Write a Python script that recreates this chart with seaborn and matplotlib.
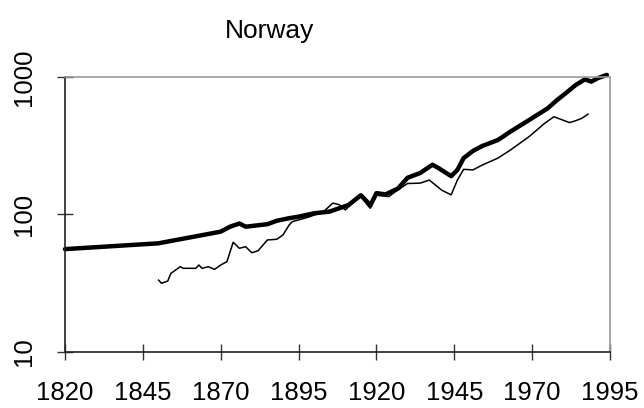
import numpy as np
import pandas as pd
import matplotlib.pyplot as plt
from matplotlib.ticker import NullLocator
import seaborn as sns

# thick line (GDP per capita index)
gdp_years = [1820, 1850, 1870, 1873, 1876, 1878, 1885, 1888, 1892, 1895,
             1900, 1905, 1908, 1911, 1915, 1917, 1918, 1920, 1923, 1927,
             1930, 1934, 1938, 1940, 1944, 1946, 1948, 1951, 1954, 1959,
             1963, 1969, 1975, 1978, 1981, 1984, 1987, 1989, 1991, 1994]
gdp = [56, 61.7, 75, 81.5, 86, 81.5, 85, 90, 94, 96.4,
       102, 105, 111, 117, 138, 124, 116, 143, 140, 155,
       185, 200, 230, 217, 190, 211, 257, 290, 315, 348,
       400, 486, 592, 680, 769, 875, 962, 925, 979, 1035]

# thin line
wage_years = [1850, 1851, 1853, 1854, 1857, 1858, 1862, 1863, 1864, 1866,
              1868, 1870, 1872, 1874, 1876, 1878, 1880, 1882, 1885, 1888,
              1890, 1892, 1893, 1898, 1903, 1906, 1908, 1910, 1913, 1915,
              1918, 1920, 1924, 1926, 1930, 1934, 1937, 1941, 1944, 1946,
              1948, 1951, 1954, 1959, 1963, 1969, 1974, 1977, 1982, 1984,
              1986, 1988]
wage = [33.4, 31.6, 32.8, 37.3, 41.7, 40.6, 40.6, 42.9, 40.6, 41.7,
        39.9, 42.9, 45.4, 62.8, 56.8, 58.3, 52.7, 54.5, 65.3, 66,
        71, 84, 88.7, 95.4, 104.8, 121, 118, 108, 125, 135,
        111, 138, 135, 146, 168, 169, 178, 150, 139, 178,
        213, 211, 229, 257, 294, 368, 460, 514, 466, 481,
        501, 538]

x_ticks = [1820, 1845, 1870, 1895, 1920, 1945, 1970, 1995]
y_ticks = [10, 100, 1000]

sns.set_style('white')
plt.rcParams['font.family'] = ['Liberation Sans', 'DejaVu Sans']

fig = plt.figure(figsize=(6.44, 4.08), dpi=100)
ax = fig.add_axes([0.1009, 0.1373, 0.8463, 0.674])

sns.lineplot(x=gdp_years, y=gdp, ax=ax, color='black', lw=3.2, clip_on=False)
sns.lineplot(x=wage_years, y=wage, ax=ax, color='black', lw=1.1)

ax.set_yscale('log')
ax.set_xlim(1820, 1995)
ax.set_ylim(10, 1000)
ax.set_xticks(x_ticks)
ax.set_yticks(y_ticks)
ax.set_yticklabels([str(v) for v in y_ticks])
ax.yaxis.set_minor_locator(NullLocator())
ax.tick_params(direction='inout', length=11.5, width=1, labelsize=18.5,
               color='#333333', labelcolor='black', left=True, bottom=True)
ax.tick_params(axis='x', pad=15.5)
ax.tick_params(axis='y', pad=15, labelrotation=90)
for lab in ax.get_yticklabels():
    lab.set_va('center')

for s in ['left', 'bottom']:
    ax.spines[s].set_color('#222222')
    ax.spines[s].set_linewidth(1.2)
for s in ['top', 'right']:
    ax.spines[s].set_color('#999999')
    ax.spines[s].set_linewidth(1.2)

fig.text(0.419, 0.907, 'Norway', ha='center', va='baseline', fontsize=19,
         color='black')

fig.savefig('out.png', dpi=100)
